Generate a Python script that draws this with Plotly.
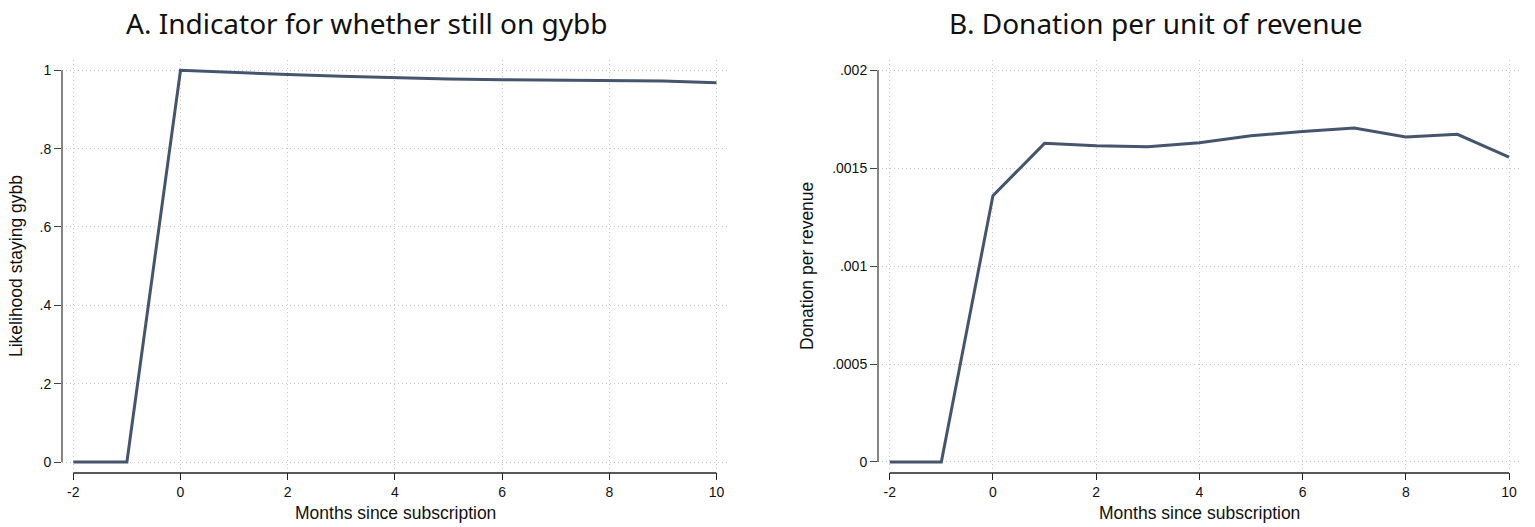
import plotly.graph_objects as go

# Event-time data: months relative to subscription
months = [-2, -1, 0, 1, 2, 3, 4, 5, 6, 7, 8, 9, 10]
still_on = [0.0, 0.0, 1.0, 0.994, 0.989, 0.985, 0.981, 0.978, 0.976, 0.975, 0.974, 0.973, 0.968]
donation_per_rev = [0.0, 0.0, 0.00136, 0.001627, 0.001615, 0.00161, 0.00163, 0.001666,
                    0.001687, 0.001705, 0.00166, 0.001673, 0.001557]

x_ticks = [-2, 0, 2, 4, 6, 8, 10]
x_ticktext = ["-2", "0", "2", "4", "6", "8", "10"]
a_ticks = [0, 0.2, 0.4, 0.6, 0.8, 1]
a_ticktext = ["0", ".2", ".4", ".6", ".8", "1"]
b_ticks = [0, 0.0005, 0.001, 0.0015, 0.002]
b_ticktext = ["0", ".0005", ".001", ".0015", ".002"]

titles = ["A. Indicator for whether still on gybb", "B. Donation per unit of revenue"]
y_titles = ["Likelihood staying gybb", "Donation per revenue"]
x_title = "Months since subscription"

W, H = 1535, 527
LINE = "#45556d"
GRID = "#c8c8c8"
TICKFONT = dict(family="Liberation Sans, Arial, sans-serif", size=14, color="#111")


def px(x):
    return x / W


def py(y):
    return 1 - y / H


fig = go.Figure()
fig.add_trace(go.Scatter(x=months, y=still_on, mode="lines",
                         line=dict(color=LINE, width=3), xaxis="x", yaxis="y",
                         showlegend=False))
fig.add_trace(go.Scatter(x=months, y=donation_per_rev, mode="lines",
                         line=dict(color=LINE, width=3), xaxis="x2", yaxis="y2",
                         showlegend=False))

top, bottom = 60, 472
common_x = dict(tickvals=x_ticks, ticktext=x_ticktext, ticks="outside", ticklen=7,
                tickcolor="#222", tickwidth=1, showgrid=True, gridcolor=GRID,
                griddash="1px,3px", gridwidth=1, zeroline=False, showline=False,
                tickfont=TICKFONT, fixedrange=True)
common_y = dict(ticks="outside", ticklen=7, tickcolor="#444", tickwidth=1,
                showgrid=True, gridcolor=GRID, griddash="1px,3px", gridwidth=1,
                zeroline=False, showline=False, tickfont=TICKFONT, fixedrange=True)

fig.update_layout(
    width=W, height=H, margin=dict(l=0, r=0, t=0, b=0),
    paper_bgcolor="white", plot_bgcolor="white",
    xaxis=dict(domain=[px(62), px(728)], range=[-2.211, 10.215], anchor="y", **common_x),
    yaxis=dict(domain=[py(bottom), py(top)], range=[-0.0255, 1.0263], anchor="x",
               tickvals=a_ticks, ticktext=a_ticktext, **common_y),
    xaxis2=dict(domain=[px(878), px(1520)], range=[-2.227, 10.213], anchor="y2", **common_x),
    yaxis2=dict(domain=[py(bottom), py(top)], range=[-0.0000511, 0.0020526], anchor="x2",
                tickvals=b_ticks, ticktext=b_ticktext, **common_y),
)

shapes = []
# Stata-style axis lines that span only the labelled range
for xa, ya, ymax in [("x", "y", a_ticks[-1]), ("x2", "y2", b_ticks[-1])]:
    shapes.append(dict(type="line", xref=xa, yref="paper", x0=x_ticks[0], x1=x_ticks[-1],
                       y0=py(473), y1=py(473), line=dict(color="#222", width=1.3)))
    shapes.append(dict(type="line", xref=xa + " domain", yref=ya, x0=0, x1=0,
                       y0=0, y1=ymax, line=dict(color="#444", width=1.3)))
fig.update_layout(shapes=shapes)

annotations = []
title_font = dict(family="Noto Sans, sans-serif", size=28, color="#111")
label_font = dict(family="Liberation Sans, Arial, sans-serif", size=17.5, color="#111")
for cx, t in zip([366, 1156], titles):
    annotations.append(dict(text=t, x=px(cx), y=py(23), xref="paper", yref="paper",
                            xanchor="center", yanchor="middle", showarrow=False,
                            font=title_font))
for cx, t in zip([16, 807], y_titles):
    annotations.append(dict(text=t, x=px(cx), y=py(266), xref="paper", yref="paper",
                            xanchor="center", yanchor="middle", showarrow=False,
                            textangle=-90, font=label_font))
for cx in [395, 1199]:
    annotations.append(dict(text=x_title, x=px(cx), y=py(513), xref="paper", yref="paper",
                            xanchor="center", yanchor="middle", showarrow=False,
                            font=label_font))
fig.update_layout(annotations=annotations)

fig.write_html("out.html")
